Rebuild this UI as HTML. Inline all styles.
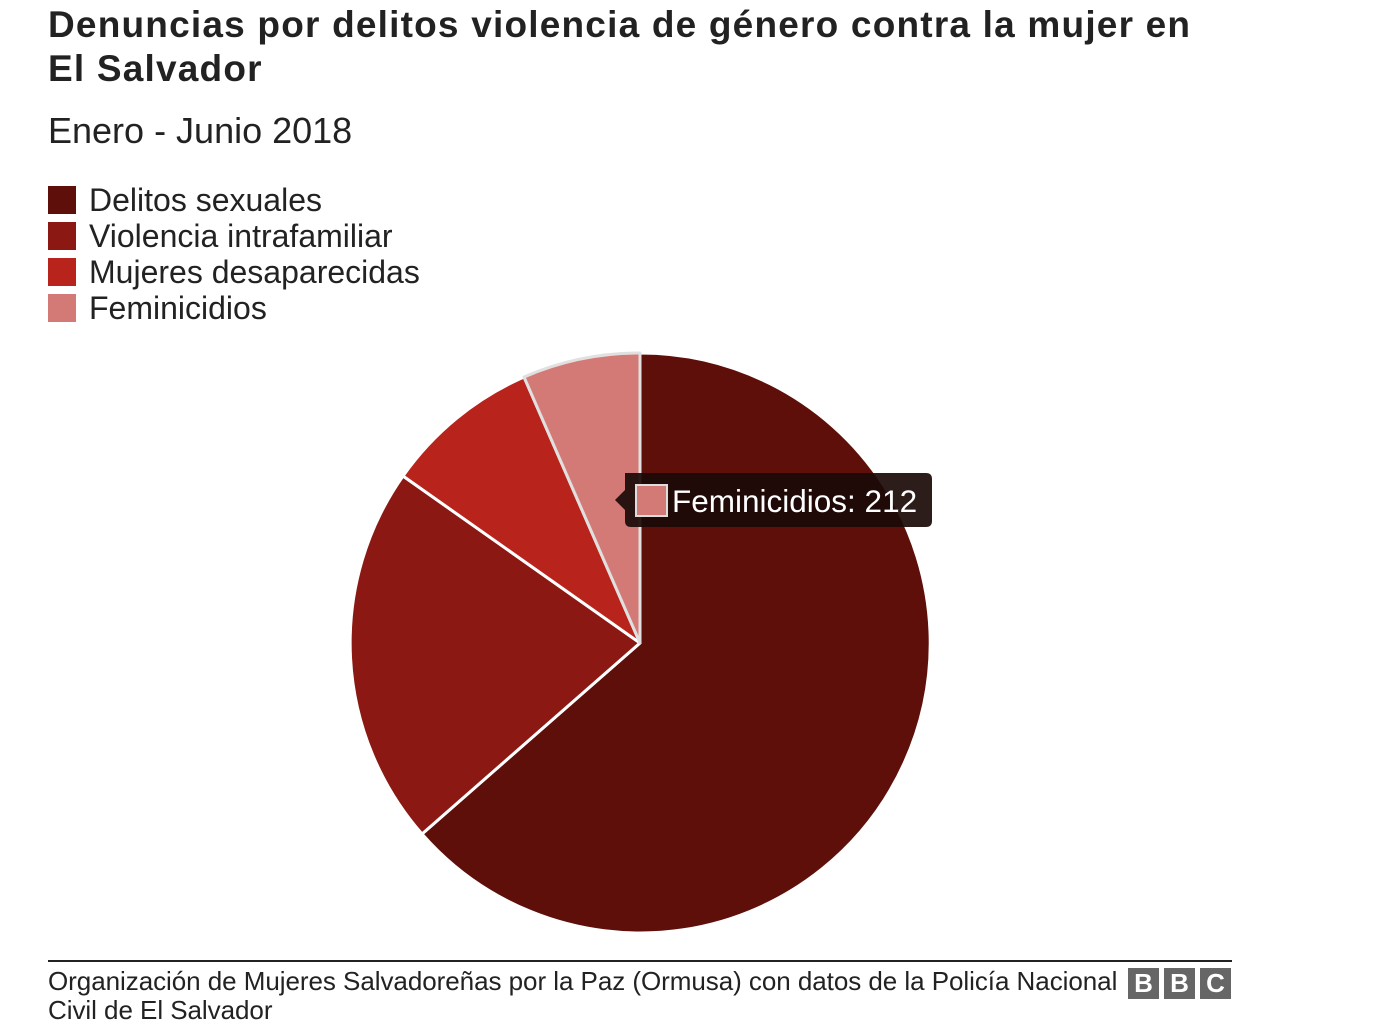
<!DOCTYPE html>
<html><head><meta charset="utf-8"><style>
body{margin:0;width:1382px;height:1028px;background:#fff;font-family:"Liberation Sans",Arial,sans-serif;color:#222;position:relative;overflow:hidden}
h1{position:absolute;left:48px;top:3px;margin:0;font-size:37px;line-height:44px;font-weight:bold;color:#222;width:1300px;letter-spacing:1.2px;white-space:nowrap}
.sub{position:absolute;left:48px;top:110px;font-size:36px;color:#222}
.leg{position:absolute;left:48px;font-size:32px;line-height:36px}
.leg span{display:inline-block;width:28px;height:28px;vertical-align:-3px;margin-right:13px}
.rule{position:absolute;left:48px;top:960px;width:1184px;height:2px;background:#222}
.src{position:absolute;left:48px;top:967px;font-size:26px;line-height:29px;color:#222;letter-spacing:-0.05px}
.bbc{position:absolute;top:968px;width:31px;height:31px;background:#666;color:#fff;font-weight:bold;font-size:26px;text-align:center;line-height:31px}
</style></head><body>
<h1>Denuncias por delitos violencia de género contra la mujer en<br>El Salvador</h1>
<div class="sub">Enero - Junio 2018</div>
<div class="leg" style="top:182px"><span style="background:#5e0f09"></span>Delitos sexuales</div>
<div class="leg" style="top:218px"><span style="background:#8b1812"></span>Violencia intrafamiliar</div>
<div class="leg" style="top:254px"><span style="background:#b8241b"></span>Mujeres desaparecidas</div>
<div class="leg" style="top:290px"><span style="background:#d47a76"></span>Feminicidios</div>
<svg width="1382" height="1028" style="position:absolute;left:0;top:0">
<g stroke="#fff" stroke-width="3" stroke-linejoin="round">
<path d="M640,643 L640,353 A290,290 0 1 1 422,834 Z" fill="#5e0f09"/>
<path d="M640,643 L422,834 A290,290 0 0 1 403,476 Z" fill="#8b1812"/>
<path d="M640,643 L403,476 A290,290 0 0 1 524,377 Z" fill="#b8241b"/>
<path d="M640,643 L524,377 A290,290 0 0 1 640,353 Z" fill="#d47a76" stroke="#e0e0e0"/>
</g>
<path d="M625,473 H926 Q932,473 932,479 V521 Q932,527 926,527 H631 Q625,527 625,521 V510 L615,500 L625,490 Z" fill="#1a0a08" fill-opacity="0.92"/>
<rect x="636" y="485" width="31" height="31" fill="#d47a76" stroke="#ddd" stroke-width="2"/>
<text x="672" y="512" font-size="31.5" fill="#fff" font-family="Liberation Sans,Arial,sans-serif">Feminicidios: 212</text>
</svg>
<div class="rule"></div>
<div class="src">Organización de Mujeres Salvadoreñas por la Paz (Ormusa) con datos de la Policía Nacional<br>Civil de El Salvador</div>
<div class="bbc" style="left:1128px">B</div>
<div class="bbc" style="left:1164px">B</div>
<div class="bbc" style="left:1200px">C</div>
</body></html>
